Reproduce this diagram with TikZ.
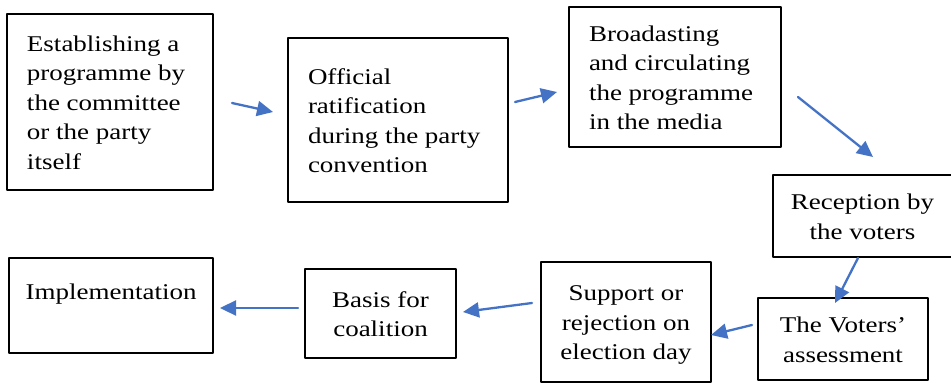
\documentclass[tikz,border=0pt]{standalone}
\usepackage{fontspec}
\setmainfont{Liberation Serif}
\usepackage{graphicx}
\usetikzlibrary{arrows.meta}
\definecolor{flowblue}{HTML}{4472C4}
\newcommand\boxtext[3]{\makebox[#1][#2]{\raisebox{-2.5pt}[\height][\depth]{\scalebox{1.2}[1]{\begin{tabular}{@{}#2@{}}#3\end{tabular}}}}}
\tikzset{
	stage/.style={draw, line width=1.5pt, inner xsep=20pt, inner ysep=0pt, font=\fontsize{22.5}{29.5}\selectfont},
	flow/.style={flowblue, line width=2.3pt, line cap=round, -{Triangle[length=16pt,width=15pt]}}
}
\begin{document}
\begin{tikzpicture}[x=1pt, y=-1pt, line join=round]
	\useasboundingbox (0,0) rectangle (951,383);
	% stages of the programme
	\foreach \n/\x/\y/\w/\h/\al/\t in {
		est/110/102/206/176/l/{Establishing a\\programme by\\the committee\\or the party\\itself},
		rat/398/120/220/164/l/{Official\\ratification\\during the party\\convention},
		brd/675/77/212/140/l/{Broadasting\\and circulating\\the programme\\in the media},
		rec/862.5/216/179/82/c/{Reception by\\the voters},
		ass/843/339/170/82/c/{The Voters'\\assessment},
		sup/626/322/170/120/c/{Support or\\rejection on\\election day},
		coa/380.5/313.5/151/89/c/{Basis for\\coalition},
		imp/111/305.5/204/95/c/{Implementation\\ \mbox{}}}
	{
		\pgfmathsetmacro\tw{\w-40}
		\node[stage, minimum width=\w pt, minimum height=\h pt] (\n) at (\x,\y) {\boxtext{\tw pt}{\al}{\t}};
	}
	% arrow ends between the boxes
	\path (232,103) coordinate (est-o) (273,112) coordinate (rat-i)
		(515,102) coordinate (rat-o) (557,92) coordinate (brd-i)
		(798,97) coordinate (brd-o) (873,157) coordinate (rec-i)
		(858,258) coordinate (rec-o) (835,303) coordinate (ass-i)
		(752,325) coordinate (ass-o) (711,335) coordinate (sup-i)
		(532,303) coordinate (sup-o) (463,312) coordinate (coa-i)
		(298,308) coordinate (coa-o) (220,308) coordinate (imp-i);
	\foreach \s/\e in {est-o/rat-i, rat-o/brd-i, brd-o/rec-i, rec-o/ass-i, ass-o/sup-i, sup-o/coa-i, coa-o/imp-i}
	\draw[flow] (\s) -- (\e);
\end{tikzpicture}
\end{document}
